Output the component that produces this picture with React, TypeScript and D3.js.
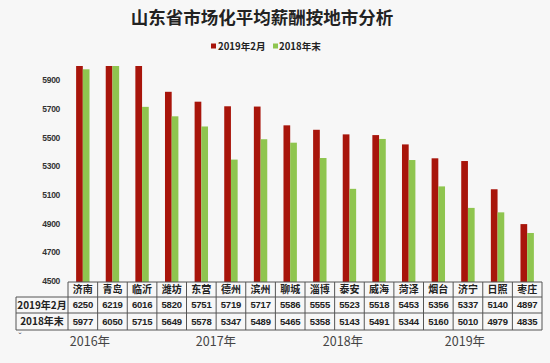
import React from "react";
import * as d3 from "d3";

const title = "山东省市场化平均薪酬按地市分析";
const cities = ["济南", "青岛", "临沂", "潍坊", "东营", "德州", "滨州", "聊城", "淄博", "泰安", "威海", "菏泽", "烟台", "济宁", "日照", "枣庄"];
const seriesNames = ["2019年2月", "2018年末"];
const feb2019 = [6250, 6219, 6016, 5820, 5751, 5719, 5717, 5586, 5555, 5523, 5518, 5453, 5356, 5337, 5140, 4897];
const end2018 = [5977, 6050, 5715, 5649, 5578, 5347, 5489, 5465, 5358, 5143, 5491, 5344, 5160, 5010, 4979, 4835];
const yTicks = [4500, 4700, 4900, 5100, 5300, 5500, 5700, 5900];
const yDomain = [4500, 6000];
const yearLabels = ["2016年", "2017年", "2018年", "2019年"];
const yearPositions = [90, 216, 343, 465];

const W = 550;
const H = 363;
const colors = ["#A8150B", "#8FC54F"];
const CJK = "'Noto Sans CJK SC', 'Liberation Sans', sans-serif";

export default function App() {
  const x = d3.scaleBand<string>().domain(cities).range([68, 542]).paddingInner(0).paddingOuter(0);
  const sub = d3.scaleBand<string>().domain(seriesNames).range([0, x.bandwidth()]).paddingInner(0).paddingOuter(1.21);
  const y = d3.scaleLinear().domain(yDomain).range([281, 66]);
  const series = [feb2019, end2018];
  const tableTop = 282;
  const r1 = 297;
  const r2 = 313;
  const r3 = 330;
  const left = 16;
  const x0 = 68;
  const x1 = 542;
  const clip = (v: number) => Math.min(v, yDomain[1]);

  return (
    <svg width={W} height={H} style={{ position: "absolute", left: 0, top: 0, background: "#F7F7F7" }}>
      <rect x={0} y={0} width={W} height={H} fill="#F7F7F7" />
      <text x={262} y={24} textAnchor="middle" fontFamily={CJK} fontWeight="bold" fontSize={17.5} fill="#222">
        {title}
      </text>
      {/* legend */}
      <rect x={211} y={43.5} width={5} height={5} fill={colors[0]} />
      <text x={218} y={50} fontFamily={CJK} fontWeight="bold" fontSize={9.6} fill="#222">{seriesNames[0]}</text>
      <rect x={273} y={43.5} width={5} height={5} fill={colors[1]} />
      <text x={279} y={50} fontFamily={CJK} fontWeight="bold" fontSize={9.6} fill="#222">{seriesNames[1]}</text>
      {/* y axis labels */}
      {yTicks.map((t) => (
        <text key={t} x={60} y={y(t)} dy="0.35em" textAnchor="end" fontFamily="'Liberation Sans', Arial, sans-serif" fontWeight="bold" fontSize={8.5} fill="#333" letterSpacing={-0.3}>
          {t}
        </text>
      ))}
      {/* bars */}
      {cities.map((c, i) => (
        <g key={c} transform={`translate(${x(c)},0)`}>
          {series.map((s, k) => (
            <rect
              key={k}
              x={sub(seriesNames[k])}
              y={y(clip(s[i]))}
              width={sub.bandwidth()}
              height={y(yDomain[0]) - y(clip(s[i])) + 1}
              fill={colors[k]}
            />
          ))}
        </g>
      ))}
      {/* table */}
      <g stroke="#555" strokeWidth={1} fill="none">
        <line x1={x0} x2={x1} y1={tableTop} y2={tableTop} />
        <line x1={left} x2={x1} y1={r1} y2={r1} />
        <line x1={left} x2={x1} y1={r2} y2={r2} />
        <line x1={left} x2={x1} y1={r3} y2={r3} />
        <line x1={left} x2={left} y1={r1} y2={r3} />
        {cities.map((c) => (
          <line key={c} x1={x(c)} x2={x(c)} y1={tableTop} y2={r3} />
        ))}
        <line x1={x1} x2={x1} y1={tableTop} y2={r3} />
      </g>
      {cities.map((c, i) => (
        <g key={c} fontFamily={CJK} fontWeight="bold" textAnchor="middle" fill="#222">
          <text x={(x(c) as number) + x.bandwidth() / 2} y={(tableTop + r1) / 2} dy="0.36em" fontSize={10}>{c}</text>
          <text x={(x(c) as number) + x.bandwidth() / 2} y={(r1 + r2) / 2} dy="0.36em" fontSize={9.5} fontFamily="'Liberation Sans', Arial, sans-serif" letterSpacing={-0.2}>{feb2019[i]}</text>
          <text x={(x(c) as number) + x.bandwidth() / 2} y={(r2 + r3) / 2} dy="0.36em" fontSize={9.5} fontFamily="'Liberation Sans', Arial, sans-serif" letterSpacing={-0.2}>{end2018[i]}</text>
        </g>
      ))}
      {seriesNames.map((s, k) => (
        <text key={s} x={(left + x0) / 2} y={k === 0 ? (r1 + r2) / 2 : (r2 + r3) / 2} dy="0.36em" textAnchor="middle" fontFamily={CJK} fontWeight="bold" fontSize={10} fill="#222">
          {s}
        </text>
      ))}
      <text x={20} y={339} textAnchor="middle" fontSize={9} fill="#555" fontFamily="'Liberation Sans', sans-serif">ˇ</text>
      {yearLabels.map((t, i) => (
        <text key={t} x={yearPositions[i]} y={341} dy="0.36em" textAnchor="middle" fontFamily={CJK} fontSize={12.5} fill="#444">
          {t}
        </text>
      ))}
    </svg>
  );
}
